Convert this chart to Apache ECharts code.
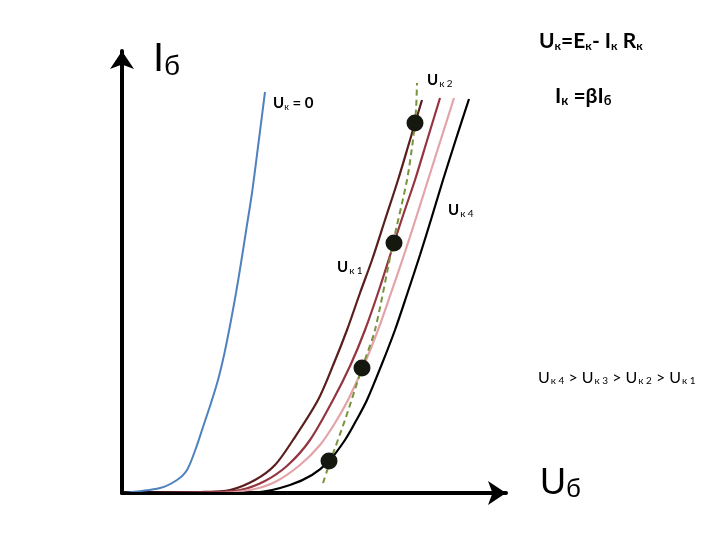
<!DOCTYPE html>
<html><head><meta charset="utf-8">
<script src="https://cdn.jsdelivr.net/npm/echarts@6/dist/echarts.min.js"></script>
<style>html,body{margin:0;padding:0;background:#fff}#c{width:720px;height:540px}</style>
</head><body><div id="c"></div>
<script>
// Values in chart units (origin at the axes' crossing)
const curveUk0 = [[0,0],[38,5],[55,13],[65,23],[74,45],[81,66],[89,90],[96,113],[102.5,140],[108.5,170],[114,200],[119,230],[124.5,265],[130,300],[136.5,350],[143,401]];
const curveUk1 = [[0,0],[78,1],[108,3],[133,13],[153,28],[171,53],[196,93],[212,130],[225,163],[238,200],[250,233],[263,273],[276,313],[288,353],[300,393]];
const curveUk2 = [[0,0],[88,1],[118,3],[143,12],[166,28],[188,53],[211,93],[228.5,128],[243,163],[258,206],[272,250],[282.5,282],[293,313],[305.5,354],[318,395]];
const curveUk3 = [[0,0],[93,0],[128,3],[153,11],[178,28],[198,48],[213,70],[226,93],[242,128],[256,163],[269,200],[282,238],[294,275],[306,313],[319,354],[332,395]];
const curveUk4 = [[0,0],[103,0],[138,1],[168,8],[190,18],[207,32],[223,53],[234.5,73],[245,93],[259.5,128],[273,163],[285.5,200],[298,238],[309.5,275],[321,313],[334,354],[347,394]];
const loadLine = [[201,10],[208,31],[223,73],[240,125],[253,163],[271,250],[285,313],[291,353],[294,383],[295,410]];
const workPoints = [[293,370],[272,250],[240,125],[207,32]];

const chart = echarts.init(document.getElementById('c'));
const lineS = (data,color,w)=>({type:'line',data,smooth:0.3,showSymbol:false,symbol:'none',
  lineStyle:{color,width:w},z:3});
chart.setOption({
  animation:false,
  backgroundColor:'#fff',
  grid:{left:122,top:51,width:384,height:442},
  xAxis:{type:'value',min:0,max:384,splitLine:{show:false},axisTick:{show:false},axisLabel:{show:false},
    axisLine:{show:true,lineStyle:{color:'#000',width:4},symbol:['none','arrow'],symbolSize:[18,18]}},
  yAxis:{type:'value',min:0,max:442,splitLine:{show:false},axisTick:{show:false},axisLabel:{show:false},
    axisLine:{show:true,lineStyle:{color:'#000',width:4},symbol:['none','arrow'],symbolSize:[18,18]}},
  series:[
    lineS(curveUk0,'#4f81bd',2),
    lineS(curveUk1,'#5a1e1e',2.2),
    lineS(curveUk2,'#953540',2.2),
    lineS(curveUk3,'#e2a4a8',2.2),
    lineS(curveUk4,'#000000',2.2),
    {type:'line',data:loadLine,smooth:0.25,showSymbol:false,symbol:'none',z:4,
      lineStyle:{color:'#77933c',width:2,type:[6,4]}},
    {type:'scatter',data:workPoints,symbolSize:17,z:5,
      itemStyle:{color:'#15180f',opacity:1}}
  ],
  graphic:[
    {type:'text',left:153,top:40,style:{text:'{a|I}{b|б}',rich:{
      a:{fontFamily:'Liberation Sans',fontSize:40,fill:'#000'},
      b:{fontFamily:'Liberation Sans',fontSize:28,fill:'#000',padding:[14,0,0,0]}}}},
    {type:'text',left:540,top:466,style:{text:'{a|U}{b|б}',rich:{
      a:{fontFamily:'Liberation Sans',fontSize:36,fill:'#000'},
      b:{fontFamily:'Liberation Sans',fontSize:26,fill:'#000',padding:[12,0,0,0]}}}},
    {type:'text',left:539,top:31,style:{text:'{a|U}{s|к}{a|=E}{s|к}{a|- I}{s|к}{a| R}{s|к}',rich:{
      a:{fontFamily:'Lato',fontWeight:'bold',fontSize:21,fill:'#000'},
      s:{fontFamily:'Lato',fontWeight:'bold',fontSize:12,fill:'#000',padding:[10,0,0,0]}}}},
    {type:'text',left:555,top:86,style:{text:'{a|I}{s|к}{a| =βI}{s|б}',rich:{
      a:{fontFamily:'Lato',fontWeight:'bold',fontSize:21,fill:'#000'},
      s:{fontFamily:'Lato',fontWeight:'bold',fontSize:13,fill:'#000',padding:[8,0,0,0]}}}},
    {type:'text',left:273,top:96,style:{text:'{a|U}{s|к}{a| = 0}',rich:{
      a:{fontFamily:'Lato',fontWeight:'bold',fontSize:15,fill:'#000'},
      s:{fontFamily:'Lato',fontSize:9,fill:'#000',padding:[7,0,0,0]}}}},
    {type:'text',left:427,top:73,style:{text:'{a|U}{s|к 2}',rich:{
      a:{fontFamily:'Lato',fontWeight:'bold',fontSize:15,fill:'#000'},
      s:{fontFamily:'Lato',fontSize:10,fill:'#000',padding:[6,0,0,1]}}}},
    {type:'text',left:448,top:203,style:{text:'{a|U}{s|к 4}',rich:{
      a:{fontFamily:'Lato',fontWeight:'bold',fontSize:15,fill:'#000'},
      s:{fontFamily:'Lato',fontSize:10,fill:'#000',padding:[6,0,0,1]}}}},
    {type:'text',left:337,top:260,style:{text:'{a|U}{s|к 1}',rich:{
      a:{fontFamily:'Lato',fontWeight:'bold',fontSize:15,fill:'#000'},
      s:{fontFamily:'Lato',fontSize:10,fill:'#000',padding:[6,0,0,1]}}}},
    {type:'text',left:538,top:370,style:{text:'{a|U}{s|к 4}{a| > U}{s|к 3}{a| > U}{s|к 2}{a| > U}{s|к 1}',rich:{
      a:{fontFamily:'Lato',fontSize:16,fill:'#000'},
      s:{fontFamily:'Lato',fontSize:10,fill:'#000',padding:[6,0,0,1]}}}}
  ]
});
</script></body></html>
